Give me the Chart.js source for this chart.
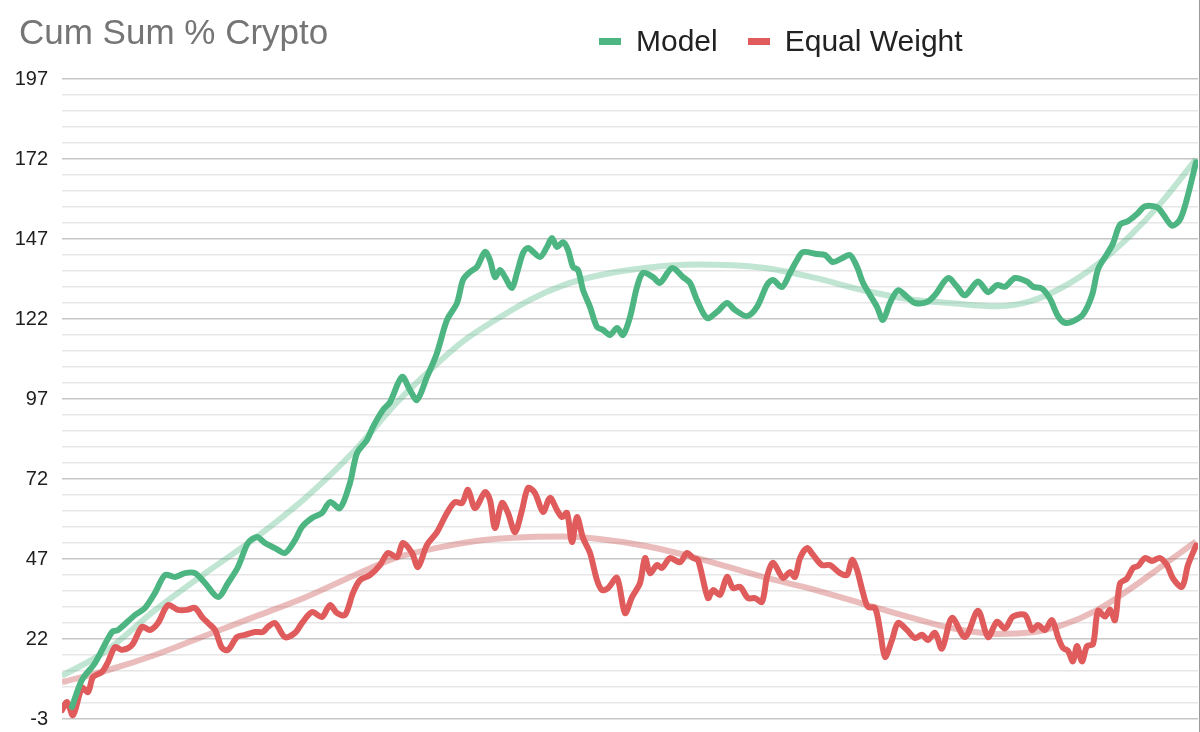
<!DOCTYPE html>
<html>
<head>
<meta charset="utf-8">
<script src="https://cdn.jsdelivr.net/npm/chart.js@4"></script>
<style>
  html, body { margin: 0; padding: 0; background: #fff; }
  #wrap { position: relative; width: 1199px; height: 732px; border-right: 1px solid #9a9a9a; }
  #chart { position: absolute; left: 0; top: 0; }
  #title { position: absolute; left: 19px; top: 12px; font: 35px "Liberation Sans", Arial, sans-serif; color: #757575; }
  #legend { position: absolute; left: 599px; top: 24px; font: 30px "Liberation Sans", Arial, sans-serif; color: #222; display: flex; align-items: center; }
  #legend span.box { display: inline-block; width: 22px; height: 7px; margin-right: 15px; }
  #legend span.item { margin-right: 30px; }
</style>
</head>
<body>
<div id="wrap">
  <canvas id="chart" width="1199" height="732"></canvas>
  <div id="title">Cum Sum % Crypto</div>
  <div id="legend"></div>
</div>
<script>
// y axis
var yMin = -3;
var yMax = 197;
var yLabels = [-3, 22, 47, 72, 97, 122, 147, 172, 197];

// Model
var modelDays = [10, 20, 33, 50, 56, 73, 83, 93, 103, 113, 123, 133, 143, 156, 166, 176, 186, 195, 203, 213,
  223, 233, 240, 250, 260, 268, 278, 288, 295, 305, 311, 321, 328, 340, 348, 355, 365, 375, 385, 395,
  401, 408, 415, 423, 428, 433, 438, 443, 450, 455, 461, 466, 478, 485, 490, 495, 501, 506, 511, 516,
  521, 528, 535, 541, 548, 555, 561, 568, 575, 581, 591, 598, 610, 621, 628, 635, 645, 655, 665, 673,
  685, 695, 705, 711, 720, 728, 735, 741, 755, 763, 771, 780, 788, 795, 801, 808, 815, 821, 828, 836,
  845, 853, 865, 873, 886, 895, 903, 916, 926, 935, 943, 953, 965, 971, 980, 988, 996, 1003, 1011, 1021,
  1030, 1036, 1045, 1051, 1058, 1066, 1075, 1083, 1095, 1101, 1110, 1118, 1125, 1134];
var modelValues = [0.8, 9.2, 14.5, 24.2, 24.8, 29.5, 31.7, 36.4, 42, 41.4, 42.6, 42.6, 39.5, 35.1, 39.5, 44.5, 52, 53.9, 52, 50.4,
  48.9, 52.9, 57, 59.8, 61.4, 64.8, 62.9, 70.8, 80.1, 84.2, 88.3, 93.6, 96, 103.9, 99.8, 96.7, 103.9, 111.4, 121.7, 127,
  134.2, 136.7, 138.3, 143, 140.4, 135.1, 137.3, 135.1, 131.7, 136.4, 142.6, 144.2, 141.4, 144.5, 147.3, 144.5, 146, 143.6, 138.3, 137.3,
  131.1, 125.8, 119.5, 118.6, 117, 119.2, 117, 122.6, 132, 136.4, 135.1, 133.3, 137.9, 135.1, 133.3, 127.9, 122.3, 124.2, 127, 124.8,
  122.9, 125.8, 132.6, 134.2, 132, 136.4, 140.4, 142.9, 142.3, 142, 139.8, 141, 142, 138.3, 133.3, 129.5, 125.8, 121.7, 127, 131,
  128.9, 127, 127.3, 129.5, 134.8, 132.1, 129.4, 133.7, 130.4, 132.6, 132.1, 134.8, 133.7, 132.1, 131.5, 128.3, 122.9, 120.8, 121.3, 123.4,
  129.4, 137.5, 142.3, 145.6, 151.5, 152.6, 154.8, 157.2, 156.9, 154.8, 151.2, 153.1, 159.6, 171];

// Equal Weight
var equalDays = [0, 5, 11, 20, 26, 31, 40, 46, 53, 60, 70, 80, 88, 96, 106, 116, 125, 133, 140, 146,
  153, 160, 166, 175, 183, 193, 201, 206, 213, 223, 233, 240, 250, 260, 268, 275, 283, 291, 298, 308,
  318, 326, 335, 341, 350, 356, 365, 375, 385, 393, 400, 406, 413, 423, 428, 433, 440, 446, 453, 460,
  466, 473, 481, 488, 495, 500, 505, 510, 515, 521, 528, 535, 540, 546, 555, 563, 570, 578, 583, 588,
  595, 600, 608, 618, 625, 631, 636, 646, 651, 658, 665, 671, 678, 686, 693, 700, 705, 711, 721, 728,
  733, 738, 745, 751, 760, 768, 778, 785, 790, 795, 801, 806, 813, 818, 823, 830, 836, 845, 853, 860,
  866, 873, 880, 890, 903, 916, 926, 935, 943, 951, 963, 970, 976, 983, 990, 996, 1001, 1006, 1011, 1015,
  1020, 1025, 1031, 1036, 1043, 1048, 1053, 1058, 1065, 1071, 1076, 1083, 1090, 1098, 1105, 1111, 1120, 1126, 1134];
var equalValues = [-0.2, 2.3, -1.8, 6.7, 5.4, 10.1, 11.7, 14.8, 19.5, 18.6, 20.1, 25.8, 24.8, 27, 32.6, 31.1, 31.1, 31.7, 28.9, 27,
  24.8, 19.2, 18.6, 22.6, 23.3, 24.2, 24.2, 25.8, 27, 22.6, 23.9, 27, 30.4, 28.9, 32.6, 30.1, 29.5, 36.4, 40.4, 42,
  45.1, 48.9, 47.6, 52, 48.9, 44.5, 51.4, 55.4, 61.4, 64.8, 64.5, 68.6, 62.9, 67.9, 65.4, 56.7, 64.5, 61.4, 55.4, 62.3,
  69.2, 67.6, 61.7, 66.1, 62.3, 60.1, 61.4, 52.3, 60.1, 53.6, 48.9, 40.4, 37.3, 37.9, 41.1, 30.1, 35.1, 39.5, 47.3, 42.6,
  45.1, 44.2, 47.3, 46, 48.9, 47.3, 46.7, 34.8, 37.3, 35.8, 41.4, 37.9, 38.3, 34.8, 34.8, 33.6, 41.4, 45.8, 41.1, 42.9,
  41.4, 47.3, 50.4, 48.3, 45.1, 45.1, 42.6, 42, 46.7, 43.6, 36.4, 32, 31.7, 24.8, 16.4, 21.7, 27, 24.8, 22.3, 23.3,
  21.7, 23.9, 19, 28.6, 22.6, 30.8, 22.6, 27.4, 25.3, 29, 29.5, 24.8, 26.4, 24.8, 27.9, 22.6, 19.2, 18.3, 15, 19.8,
  15, 19.8, 20.4, 30.8, 29, 31.2, 27.9, 39.3, 40.9, 44.2, 44.8, 47.3, 46.4, 47.3, 45.1, 40.9, 38.3, 45.1, 51.2];

// trend lines
var trendDays = [0, 43, 93, 143, 193, 243, 293, 335, 368, 401, 435, 468, 501, 535, 585, 635, 701, 751, 801, 851,
  888, 935, 968, 1001, 1035, 1068, 1101, 1134];
var modelTrend = [10.5, 18, 31, 42.5, 53.5, 66, 81, 96, 106, 115, 122, 128, 132.5, 135.5, 138, 139, 138, 135, 131, 128,
  127, 126, 127.5, 132, 139, 148, 159, 172];
var equalTrend = [8.5, 12, 17, 23, 29, 35, 42, 47.5, 50, 52, 53.3, 53.9, 54, 53.3, 51, 47.3, 41.4, 37.5, 33, 28.5,
  25.5, 23.6, 24, 26.4, 31, 37.6, 45, 52.5];

var green = "#4db582";
var red = "#e05c5c";

function pairs(xs, ys) {
  return xs.map(function (x, i) { return { x: x, y: ys[i] }; });
}

var model = {
  label: "Model",
  data: pairs(modelDays, modelValues),
  borderColor: green,
  borderWidth: 6,
  pointRadius: 0,
  tension: 0.3,
  borderCapStyle: "round",
  borderJoinStyle: "round",
  order: 1,
};

var equal = {
  label: "Equal Weight",
  data: pairs(equalDays, equalValues),
  borderColor: red,
  borderWidth: 6,
  pointRadius: 0,
  tension: 0.3,
  borderCapStyle: "round",
  borderJoinStyle: "round",
  order: 1,
};

var modelFit = {
  label: "Model trend",
  data: pairs(trendDays, modelTrend),
  borderColor: "rgba(77, 181, 130, 0.35)",
  borderWidth: 6,
  pointRadius: 0,
  cubicInterpolationMode: "monotone",
  order: 2,
};

var equalFit = {
  label: "Equal Weight trend",
  data: pairs(trendDays, equalTrend),
  borderColor: "rgba(205, 95, 95, 0.42)",
  borderWidth: 6,
  pointRadius: 0,
  cubicInterpolationMode: "monotone",
  order: 2,
};

var ctx = document.getElementById("chart").getContext("2d");

var chart = new Chart(ctx, {
  type: "line",
  data: { datasets: [model, equal, modelFit, equalFit] },
  options: {
    responsive: false,
    animation: false,
    layout: { padding: { top: 79, bottom: 13, left: 0, right: 1 } },
    plugins: {
      legend: { display: false },
      title: { display: false },
      tooltip: { enabled: false },
    },
    scales: {
      x: {
        type: "linear",
        display: false,
        min: 0,
        max: 1136,
      },
      y: {
        min: yMin,
        max: yMax,
        afterBuildTicks: function (scale) {
          var t = [];
          for (var v = yMin; v <= yMax; v += 5) t.push({ value: v });
          scale.ticks = t;
        },
        afterFit: function (scale) {
          scale.width = 62;
          scale.paddingTop = 0;
          scale.paddingBottom = 0;
        },
        border: { display: false },
        grid: {
          drawTicks: false,
          lineWidth: 1.5,
          color: function (c) {
            return yLabels.indexOf(c.tick.value) >= 0 ? "#c6c6c6" : "#e6e6e6";
          },
        },
        ticks: {
          padding: 14,
          autoSkip: false,
          color: "#1e1e1e",
          font: { family: "'Liberation Sans', Arial, sans-serif", size: 20 },
          callback: function (v) {
            return yLabels.indexOf(v) >= 0 ? String(v) : "";
          },
        },
      },
    },
  },
});

// legend for the two main series
var legend = document.getElementById("legend");
[model, equal].forEach(function (ds) {
  var box = document.createElement("span");
  box.className = "box";
  box.style.background = ds.borderColor;
  var txt = document.createElement("span");
  txt.className = "item";
  txt.textContent = ds.label;
  legend.appendChild(box);
  legend.appendChild(txt);
});
</script>
</body>
</html>
